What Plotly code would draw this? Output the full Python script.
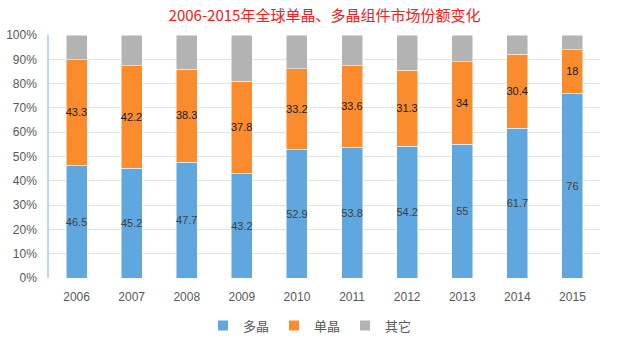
import plotly.graph_objects as go

years = ["2006", "2007", "2008", "2009", "2010", "2011", "2012", "2013", "2014", "2015"]
multi = [46.5, 45.2, 47.7, 43.2, 52.9, 53.8, 54.2, 55, 61.7, 76]
mono = [43.3, 42.2, 38.3, 37.8, 33.2, 33.6, 31.3, 34, 30.4, 18]
other = [10.2, 12.6, 14.0, 19.0, 13.9, 12.6, 14.5, 11.0, 7.9, 6.0]

fig = go.Figure()
fig.add_bar(x=years, y=multi, name="多晶", marker=dict(color="#5fa7de", line=dict(color="#ffffff", width=0.5)),
            text=[str(v) for v in multi], textposition="inside", insidetextanchor="middle", textangle=0,
            textfont=dict(color="#404040", size=11, family="Liberation Sans"))
fig.add_bar(x=years, y=mono, name="单晶", marker=dict(color="#fa8c2e", line=dict(color="#ffffff", width=0.5)),
            text=[str(v) for v in mono], textposition="inside", insidetextanchor="middle", textangle=0,
            textfont=dict(color="#1a1a1a", size=12, family="Liberation Sans"))
fig.add_bar(x=years, y=other, name="其它", marker=dict(color="#b3b3b3", line=dict(color="#ffffff", width=0.5)),
            hoverinfo="skip")

fig.update_layout(
    barmode="stack",
    bargap=0.62,
    width=620, height=341,
    margin=dict(l=49, r=20, t=35, b=63, autoexpand=False),
    paper_bgcolor="#ffffff", plot_bgcolor="#ffffff",
    title=dict(text="2006-2015年全球单晶、多晶组件市场份额变化", x=0.5, xanchor="center",
               y=0.955, yanchor="middle", xref="paper",
               font=dict(color="#ee2020", size=15, family="Noto Sans CJK SC")),
    font=dict(family="Noto Sans CJK SC", color="#595959"),
    legend=dict(orientation="h", x=0.5, xanchor="center", y=0.045, yanchor="middle", yref="container",
                xref="container",
                font=dict(size=13, color="#595959"), itemwidth=30, traceorder="normal", itemsizing="constant"),
    uniformtext=dict(mode="show", minsize=8),
)
fig.update_xaxes(type="category", showline=False, ticks="", ticklabelstandoff=10,
                 tickfont=dict(size=12, color="#595959", family="Liberation Sans"))
fig.update_yaxes(range=[0, 100], dtick=10, ticksuffix="%", showgrid=True, gridcolor="#e3e3e3", gridwidth=1,
                 showline=True, linecolor="#bcd8ef", linewidth=1.5, zeroline=False, ticklabelstandoff=8,
                 tickfont=dict(size=12, color="#595959", family="Liberation Sans"))

fig.write_html("out.html")
